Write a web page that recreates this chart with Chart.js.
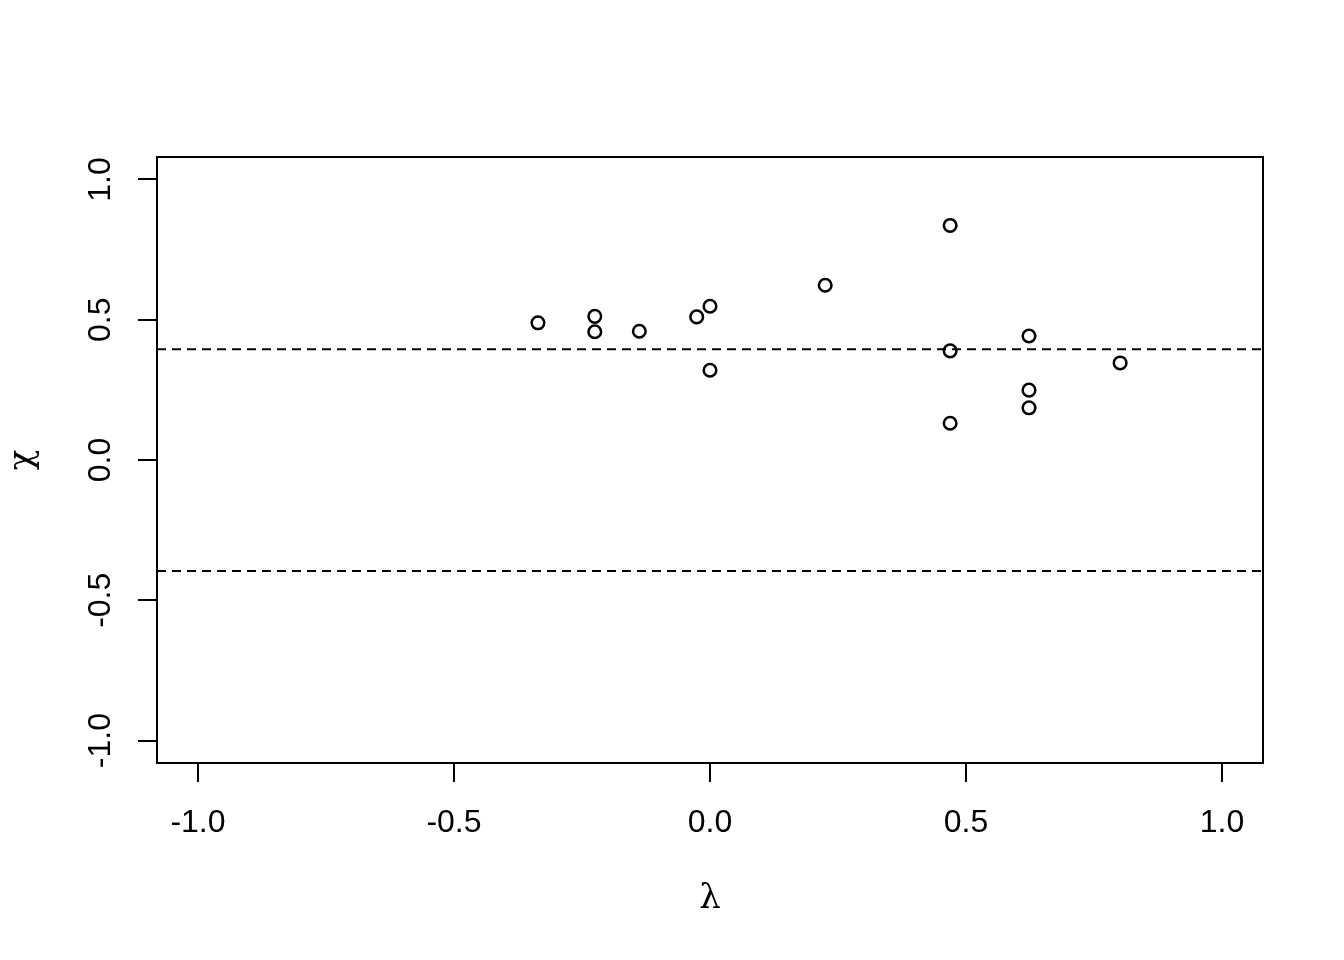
<!DOCTYPE html>
<html>
<head>
<meta charset="utf-8">
<script src="https://cdn.jsdelivr.net/npm/chart.js@4/dist/chart.umd.min.js"></script>
<style>
html,body{margin:0;padding:0;background:#fff;}
#c{display:block;}
</style>
</head>
<body>
<canvas id="c" width="1344" height="960"></canvas>
<script>
const lambdaVals = [-0.336, -0.225, -0.225, -0.138, -0.026, 0.000, 0.000, 0.225, 0.469, 0.469, 0.469, 0.623, 0.623, 0.623, 0.801];
const chiVals    = [ 0.489,  0.512,  0.457,  0.459,  0.510, 0.548, 0.320, 0.623, 0.836, 0.389, 0.131, 0.442, 0.249, 0.186, 0.346];
const boundVals  = [0.395, -0.396];
const xTickVals  = [-1.0, -0.5, 0.0, 0.5, 1.0];
const xTickLabels = ["-1.0", "-0.5", "0.0", "0.5", "1.0"];
const yTickVals  = [-1.0, -0.5, 0.0, 0.5, 1.0];
const yTickLabels = ["-1.0", "-0.5", "0.0", "0.5", "1.0"];
const xTitle = "λ";
const yTitle = "χ";
const axisMin = -1.08, axisMax = 1.08;

const points = lambdaVals.map((x, i) => ({x: x, y: chiVals[i]}));
const boundSets = boundVals.map(v => ({
  type: 'line',
  data: [{x: axisMin, y: v}, {x: axisMax, y: v}],
  borderColor: '#000',
  borderWidth: 2,
  borderDash: [9, 6],
  pointRadius: 0,
  fill: false,
  order: 2
}));

const tickFont = '32px "Liberation Sans", Arial, sans-serif';
const greekFont = '34px "DejaVu Serif", "Liberation Serif", serif';

const rAxes = {
  id: 'rAxes',
  afterDraw(chart) {
    const ctx = chart.ctx;
    const xs = chart.scales.x, ys = chart.scales.y;
    const a = chart.chartArea;
    ctx.save();
    ctx.strokeStyle = '#000';
    ctx.fillStyle = '#000';
    ctx.lineWidth = 2;
    ctx.strokeRect(a.left, a.top, a.right - a.left, a.bottom - a.top);
    ctx.beginPath();
    ctx.moveTo(xs.getPixelForValue(xTickVals[0]), a.bottom);
    ctx.lineTo(xs.getPixelForValue(xTickVals[xTickVals.length-1]), a.bottom);
    xTickVals.forEach(v => {
      const px = Math.round(xs.getPixelForValue(v));
      ctx.moveTo(px, a.bottom);
      ctx.lineTo(px, a.bottom + 19);
    });
    ctx.moveTo(a.left, ys.getPixelForValue(yTickVals[0]));
    ctx.lineTo(a.left, ys.getPixelForValue(yTickVals[yTickVals.length-1]));
    yTickVals.forEach(v => {
      const py = Math.round(ys.getPixelForValue(v));
      ctx.moveTo(a.left, py);
      ctx.lineTo(a.left - 19, py);
    });
    ctx.stroke();
    ctx.font = tickFont;
    ctx.textAlign = 'center';
    ctx.textBaseline = 'middle';
    xTickVals.forEach((v, i) => {
      ctx.fillText(xTickLabels[i], xs.getPixelForValue(v), a.bottom + 60);
    });
    yTickVals.forEach((v, i) => {
      ctx.save();
      ctx.translate(a.left - 56, ys.getPixelForValue(v));
      ctx.rotate(-Math.PI / 2);
      ctx.fillText(yTickLabels[i], 0, 0);
      ctx.restore();
    });
    ctx.font = greekFont;
    ctx.fillText(xTitle, (a.left + a.right) / 2, a.bottom + 136);
    ctx.save();
    ctx.translate(a.left - 134, (a.top + a.bottom) / 2);
    ctx.rotate(-Math.PI / 2);
    ctx.fillText(yTitle, 0, 0);
    ctx.restore();
    ctx.restore();
  }
};

new Chart(document.getElementById('c'), {
  type: 'scatter',
  data: {
    datasets: [{
      data: points,
      pointStyle: 'circle',
      pointBackgroundColor: 'rgba(0,0,0,0)',
      pointBorderColor: '#000',
      pointBorderWidth: 2.5,
      pointRadius: 6.3,
      pointHoverRadius: 6.3,
      pointHoverBorderWidth: 2.5,
      showLine: false,
      order: 1
    }].concat(boundSets)
  },
  options: {
    responsive: false,
    animation: false,
    events: [],
    layout: {padding: {left: 0, right: 81, top: 157, bottom: 0}},
    plugins: {legend: {display: false}, tooltip: {enabled: false}, title: {display: false}},
    scales: {
      x: {
        type: 'linear', min: axisMin, max: axisMax,
        grid: {display: false}, border: {display: false},
        ticks: {display: false},
        afterFit(s) { s.height = 197; }
      },
      y: {
        type: 'linear', min: axisMin, max: axisMax,
        grid: {display: false}, border: {display: false},
        ticks: {display: false},
        afterFit(s) { s.width = 157; }
      }
    }
  },
  plugins: [rAxes]
});
</script>
</body>
</html>
